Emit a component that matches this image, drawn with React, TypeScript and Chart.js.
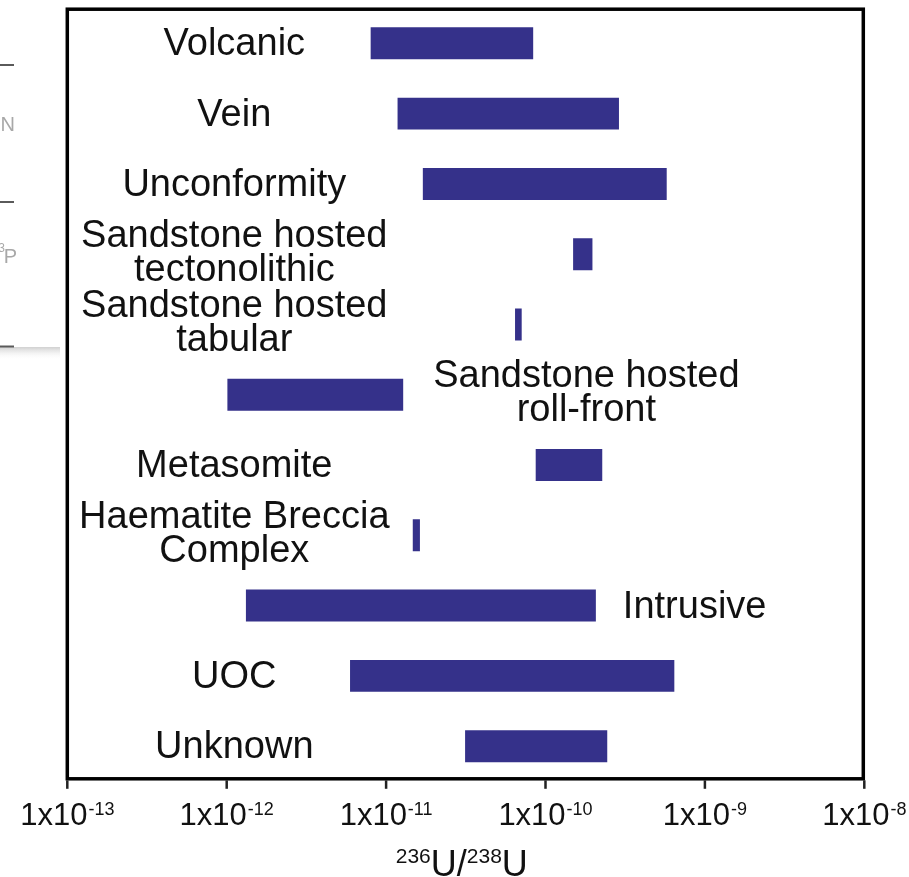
import React, { useEffect, useRef } from "react";
import { Chart, registerables } from "chart.js";

Chart.register(...registerables);

// ---- Data ----
const categories = [
  "Volcanic",
  "Vein",
  "Unconformity",
  "Sandstone hosted tectonolithic",
  "Sandstone hosted tabular",
  "Sandstone hosted roll-front",
  "Metasomite",
  "Haematite Breccia Complex",
  "Intrusive",
  "UOC",
  "Unknown",
];
const lowValues = [8.0e-12, 1.18e-11, 1.7e-11, 1.49e-10, 6.44e-11, 1.01e-12, 8.68e-11, 1.47e-11, 1.32e-12, 5.94e-12, 3.13e-11];
const highValues = [8.37e-11, 2.89e-10, 5.76e-10, 1.97e-10, 7.09e-11, 1.28e-11, 2.27e-10, 1.63e-11, 2.07e-10, 6.43e-10, 2.44e-10];
const labelLines = [
  ["Volcanic"],
  ["Vein"],
  ["Unconformity"],
  ["Sandstone hosted", "tectonolithic"],
  ["Sandstone hosted", "tabular"],
  ["Sandstone hosted", "roll-front"],
  ["Metasomite"],
  ["Haematite Breccia", "Complex"],
  ["Intrusive"],
  ["UOC"],
  ["Unknown"],
];
const labelSide = ["left", "left", "left", "left", "left", "right", "left", "left", "right", "left", "left"];
const tickValues = [1e-13, 1e-12, 1e-11, 1e-10, 1e-9, 1e-8];
const tickMain = "1x10";
const tickExponents = ["-13", "-12", "-11", "-10", "-9", "-8"];
const titleParts = [
  { text: "236", sup: true },
  { text: "U", sup: false },
  { text: "/", sup: false },
  { text: "238", sup: true },
  { text: "U", sup: false },
];

const FONT = '"Liberation Sans", Arial, Helvetica, sans-serif';
const BAR_COLOR = "#35318a";

const overlayPlugin = {
  id: "overlay",
  afterDraw(chart: any) {
    const ctx = chart.ctx as CanvasRenderingContext2D;
    const area = chart.chartArea;
    const xs = chart.scales.x;
    const ys = chart.scales.y;
    ctx.save();

    // left cropped fragments (gray)
    ctx.strokeStyle = "#5a5a5a";
    ctx.lineWidth = 2;
    [65, 202].forEach((y) => {
      ctx.beginPath();
      ctx.moveTo(0, y);
      ctx.lineTo(14, y);
      ctx.stroke();
    });
    const g = ctx.createLinearGradient(0, 347, 0, 360);
    g.addColorStop(0, "#d0d0d0");
    g.addColorStop(1, "rgba(255,255,255,0)");
    ctx.fillStyle = g;
    ctx.fillRect(0, 347, 60, 13);
    ctx.beginPath();
    ctx.moveTo(0, 346.5);
    ctx.lineTo(14, 346.5);
    ctx.stroke();
    ctx.fillStyle = "#a8a8a8";
    ctx.font = `20px ${FONT}`;
    ctx.textAlign = "right";
    ctx.textBaseline = "alphabetic";
    ctx.fillText("PN", 15, 131);
    ctx.fillText("P", 17, 263);
    ctx.font = `12px ${FONT}`;
    ctx.fillText("3", 5, 252);

    // frame
    ctx.strokeStyle = "#000";
    ctx.lineWidth = 3.5;
    const fTop = area.top + 1;
    const fBot = area.bottom - 2.5;
    ctx.strokeRect(area.left, fTop, area.right - area.left - 1, fBot - fTop);

    // ticks
    ctx.strokeStyle = "#222";
    ctx.lineWidth = 2.5;
    tickValues.forEach((v) => {
      const px = xs.getPixelForValue(v);
      ctx.beginPath();
      ctx.moveTo(px, fBot + 1.5);
      ctx.lineTo(px, fBot + 10);
      ctx.stroke();
    });

    // tick labels
    ctx.fillStyle = "#111";
    ctx.textAlign = "left";
    tickValues.forEach((v, i) => {
      const px = xs.getPixelForValue(v);
      ctx.font = `31px ${FONT}`;
      const wm = ctx.measureText(tickMain).width;
      ctx.font = `18px ${FONT}`;
      const ws = ctx.measureText(tickExponents[i]).width;
      const x0 = px - (wm + ws + 1) / 2;
      ctx.font = `31px ${FONT}`;
      ctx.fillText(tickMain, x0, 825);
      ctx.font = `18px ${FONT}`;
      ctx.fillText(tickExponents[i], x0 + wm + 1, 815);
    });

    // axis title
    let tw = 0;
    titleParts.forEach((p) => {
      ctx.font = p.sup ? `21px ${FONT}` : `36px ${FONT}`;
      tw += ctx.measureText(p.text).width;
    });
    let tx = (area.left + area.right) / 2 - 4 - tw / 2;
    titleParts.forEach((p) => {
      ctx.font = p.sup ? `21px ${FONT}` : `36px ${FONT}`;
      ctx.fillText(p.text, tx, p.sup ? 863 : 876);
      tx += ctx.measureText(p.text).width;
    });

    // category labels
    ctx.font = `38px ${FONT}`;
    ctx.fillStyle = "#111";
    ctx.textAlign = "center";
    labelLines.forEach((lines, i) => {
      const cy = ys.getPixelForValue(i);
      const baselines = lines.length === 1 ? [cy + 12] : [cy - 7.5, cy + 26.5];
      let cx: number;
      if (labelSide[i] === "left") {
        cx = area.left + 167;
      } else {
        const end = xs.getPixelForValue(highValues[i]);
        const w = Math.max(...lines.map((l) => ctx.measureText(l).width));
        cx = end + (lines.length > 1 ? 30 : 27) + w / 2;
      }
      lines.forEach((l, j) => ctx.fillText(l, cx, baselines[j]));
    });

    ctx.restore();
  },
};

export default function App() {
  const ref = useRef<HTMLCanvasElement>(null);
  useEffect(() => {
    if (!ref.current) return;
    const chart = new Chart(ref.current, {
      type: "bar",
      data: {
        labels: categories,
        datasets: [
          {
            data: lowValues.map((l, i) => [l, highValues[i]]) as any,
            backgroundColor: BAR_COLOR,
            borderWidth: 0,
            barPercentage: 0.455,
            categoryPercentage: 1,
          },
        ],
      },
      options: {
        indexAxis: "y",
        responsive: false,
        animation: false,
        devicePixelRatio: 1,
        layout: { padding: { left: 67.3, right: 44.7, top: 8.2, bottom: 95.7 } },
        plugins: { legend: { display: false }, tooltip: { enabled: false } },
        scales: {
          x: { type: "logarithmic", min: 1e-13, max: 1e-8, display: false },
          y: { type: "category", display: false, offset: true },
        },
      },
      plugins: [overlayPlugin],
    });
    return () => chart.destroy();
  }, []);
  return (
    <div style={{ position: "absolute", left: 0, top: 0, width: 909, height: 877, background: "#fff" }}>
      <canvas ref={ref} width={909} height={877} style={{ display: "block" }} />
    </div>
  );
}
